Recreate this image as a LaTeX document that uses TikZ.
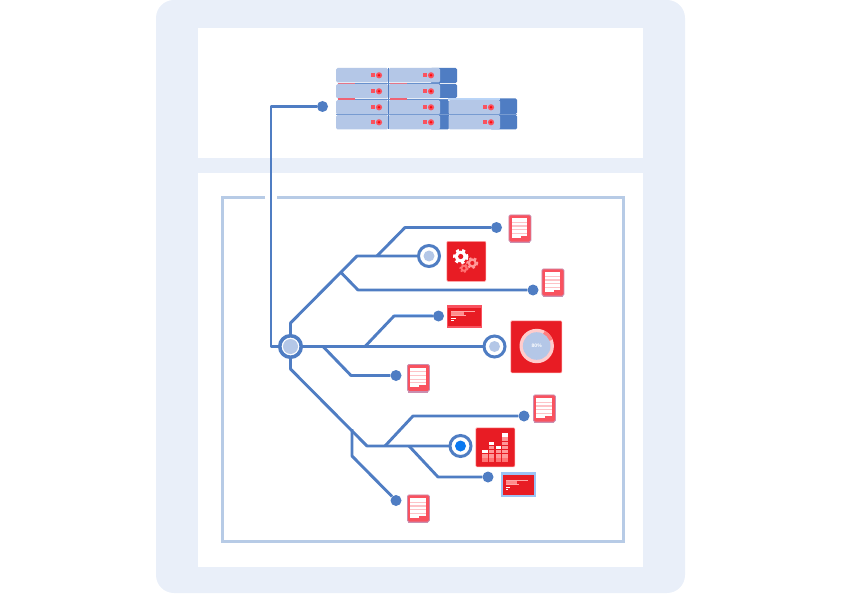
\documentclass[tikz,border=0pt]{standalone}
\usepackage{fontspec}
\setmainfont{Liberation Sans}
\definecolor{paleblue}{HTML}{E9EFF9}
\definecolor{framec}{HTML}{B7CBE6}
\definecolor{linec}{HTML}{4F7DC3}
\definecolor{srv}{HTML}{B4C7E7}
\definecolor{redc}{HTML}{E81C24}
\definecolor{pinkc}{HTML}{F9525F}
\definecolor{doclilac}{HTML}{C98FB0}
\definecolor{bright}{HTML}{0A78F0}
\definecolor{skyc}{HTML}{9CC3F5}
\tikzset{
  link/.style={draw=linec,line width=2.9pt,line join=round},
  enddot/.style={circle,fill=linec,inner sep=0pt,minimum size=11pt},
  ringn/.style={circle,draw=linec,fill=white,line width=3pt,inner sep=0pt,minimum size=21pt},
  hubn/.style={circle,draw=linec,fill=white,line width=3.6pt,inner sep=0pt,minimum size=21.5pt},
  srvbox/.style={fill=srv,rounded corners=1.5pt},
  srvdark/.style={fill=linec,rounded corners=1.5pt},
  redbox/.style={fill=redc,draw=red!35!white,line width=.6pt,rounded corners=1pt},
}
\newcommand{\srvunit}[3]{% x, y top, width
  \fill[srvbox] (#1,#2) rectangle ++(#3,14.5);
  \fill[pinkc] (#1+#3-17.5,#2+5.3) rectangle ++(4,4);
  \fill[pinkc] (#1+#3-9,#2+7.3) circle (3.1);
  \fill[red!90!pinkc] (#1+#3-9,#2+7.3) circle (1.4);
}
\newcommand{\docicon}[3]{% name, x, y
  \node[fill=pinkc,draw=doclilac,line width=.8pt,rounded corners=1.5pt,minimum width=22pt,minimum height=27pt,inner sep=0pt,anchor=north west] (#1) at (#2,#3) {};
  \fill[doclilac] (#2+1,#3+27) rectangle ++(20,1.6);
  \fill[white] (#2+3,#3+3.5) rectangle ++(15.5,19.5);
  \foreach \k in {1,...,4}{\fill[pinkc!35!white] (#2+3,#3+3.5+\k*3.7) rectangle ++(15.5,1.1);}
  \fill[pinkc] (#2+12,#3+21) rectangle ++(6.6,2.2);
}
\newcommand{\gearicon}[4]{% x, y, r, colour
  \fill[#4] (#1,#2) circle (#3);
  \draw[#4,line width=#3*.4pt,dash pattern=on #3*.55pt off #3*.55pt] (#1,#2) circle (#3*1.12);
  \fill[redc] (#1,#2) circle (#3*.45);
}
\newcommand{\winicon}[5]{% x, y, w, h, top-strip colour
  \fill[redc] (#1,#2) rectangle ++(#3,#4);
  \fill[#5] (#1,#2) rectangle ++(#3,2.2);
  \fill[white!65!red] (#1+3,#2+4.5) rectangle ++(#3*.72,1.3);
  \fill[white!55!red] (#1+3,#2+6.3) rectangle ++(#3*.38,2.6);
  \fill[white!65!red] (#1+3,#2+9.2) rectangle ++(#3*.44,1.1);
  \fill[white] (#1+3,#2+11.8) rectangle ++(4.5,1.1);
  \fill[white] (#1+3,#2+14.2) rectangle ++(2.8,1.1);
}
\begin{document}
\begin{tikzpicture}[x=1pt,y=-1pt]
\useasboundingbox (0,0) rectangle (842,596);
% panels
\fill[paleblue,rounded corners=18pt] (156,0) rectangle (685,593);
\fill[white] (198,28) rectangle (643,158);
\fill[white] (198,173) rectangle (643,567);
\draw[framec,line width=3pt] (265,197) -- (222,197) -- (222,541) -- (623,541) -- (623,197) -- (277,197);
% servers
\fill[srvdark] (430,68) rectangle (457,83);
\fill[srvdark] (430,84) rectangle (457,98);
\fill[srvdark] (430,100) rectangle (449,129.5);
\fill[srvdark] (490,98.5) rectangle (517,114);
\fill[srvdark] (490,115) rectangle (517,129.5);
\fill[skyc!70!white] (448,98) rectangle (500,100);
\foreach \y in {68,84,100,115}{
  \srvunit{336}{\y}{52}
  \srvunit{388.5}{\y}{51.5}
}
\foreach \y in {100,115}{\srvunit{448.5}{\y}{51.5}}
\draw[linec,line width=1pt] (388.3,68) -- (388.3,129.5);
\draw[linec!75!srv,line width=1pt] (355,83.6) -- (440,83.6);
\draw[linec!75!srv,line width=1.5pt] (355,99.3) -- (448,99.3);
\draw[linec!60!srv,line width=.8pt] (336,114.6) -- (517,114.6);
\fill[pinkc!70!srv] (338,83) rectangle (355,84.3);
\fill[pinkc!70!srv] (390,83) rectangle (407,84.3);
\fill[pinkc!85!srv] (338,98.5) rectangle (355,100);
\fill[pinkc!85!srv] (390,98.5) rectangle (407,100);
% nodes
\node[hubn] (hub) at (290.5,346.5) {};
\fill[srv] (hub.center) circle (7.5);
\node[enddot] (srvdot) at (322.5,106.5) {};
\node[enddot] (d1) at (496.5,227.5) {};
\node[enddot] (d2) at (533,290) {};
\node[enddot] (d3) at (438.5,316) {};
\node[enddot] (d4) at (396,375.5) {};
\node[enddot] (d5) at (524,416) {};
\node[enddot] (d6) at (488,477) {};
\node[enddot] (d7) at (396,500.5) {};
\coordinate (a0) at (271,106.5);
\coordinate (a1) at (271,346.5);
\coordinate (b0) at (290.5,323);
\coordinate (b1) at (357,256);
\coordinate (b2) at (377,256);
\coordinate (b3) at (405,227.5);
\coordinate (b4) at (341,272.5);
\coordinate (b5) at (358,290);
\coordinate (c1) at (365,346.5);
\coordinate (c2) at (394,316);
\coordinate (c3) at (323,346.5);
\coordinate (c4) at (351,375.5);
\coordinate (e0) at (290.5,369);
\coordinate (e1) at (367,446);
\coordinate (e2) at (385,446);
\coordinate (e3) at (413,416);
\coordinate (e4) at (409,446);
\coordinate (e5) at (438,477);
\coordinate (e6) at (352,429);
\coordinate (e7) at (352,456);
% connectors
\draw[link] (srvdot) -- (a0) -- (a1) -- (hub);
\draw[link] (hub) -- (b0) -- (b1) -- (417,256);
\draw[link] (b2) -- (b3) -- (d1);
\draw[link] (b4) -- (b5) -- (d2);
\draw[link] (hub) -- (483,346.5);
\draw[link] (c1) -- (c2) -- (d3);
\draw[skyc,line width=1.2pt] (394,314.5) -- (432,314.5);
\draw[link] (c3) -- (c4) -- (d4);
\draw[link] (hub) -- (e0) -- (e1) -- (449,446);
\draw[link] (e2) -- (e3) -- (d5);
\draw[link] (e4) -- (e5) -- (d6);
\draw[link] (e6) -- (e7) -- (d7);
% rings
\node[ringn] (r1) at (429,256) {};
\fill[srv] (r1.center) circle (5.5);
\node[ringn] (r2) at (494.5,346.5) {};
\fill[srv] (r2.center) circle (5.5);
\node[ringn] (r3) at (460.5,446) {};
\fill[bright] (r3.center) circle (5.5);
% document icons
\docicon{doc1}{508.5}{214.5}
\docicon{doc2}{541.5}{268.5}
\docicon{doc3}{407}{364}
\docicon{doc4}{533}{394.5}
\docicon{doc5}{407}{494.5}
% gears
\node[redbox,minimum width=39pt,minimum height=40pt,inner sep=0pt,anchor=north west] (gearbox) at (446.5,241) {};
\gearicon{460.7}{256.5}{5.8}{white}
\gearicon{472.3}{263}{4.6}{white!60!red}
\gearicon{464}{268.3}{3.5}{white!45!red}
% donut
\node[redbox,minimum width=51pt,minimum height=52pt,inner sep=0pt,anchor=north west] (donutbox) at (510.5,320.5) {};
\fill[white!80!red] (536.7,346) circle (17.2);
\fill[white!50!red] (536.7,346) -- ++(-62:17.2) arc[start angle=-62,end angle=-22,radius=17.2] -- cycle;
\fill[srv] (536.7,346) circle (13.8);
\node[text=white,font=\bfseries\fontsize{5}{5}\selectfont,inner sep=0pt] (pct) at (536.7,345.5) {80\%};
% chart
\node[redbox,minimum width=39pt,minimum height=39pt,inner sep=0pt,anchor=north west] (chartbox) at (475.5,427.5) {};
\foreach \cx/\n in {482/3,488.8/5,495.6/4,502/7}{
  \foreach \k in {1,...,\n}{
    \pgfmathsetmacro{\yy}{462.5-\k*4.2}
    \pgfmathsetmacro{\shade}{\k==\n ? 100 : (\k>1 ? 60 : 45)}
    \fill[white!\shade!red] (\cx,\yy) rectangle ++(5.5,3.4);
  }
}
% window icons
\node[fill=pinkc,minimum width=35pt,minimum height=22.5pt,inner sep=0pt,anchor=north west] (win1) at (447,305) {};
\winicon{448}{306}{33}{20}{pinkc}
\node[fill=skyc,minimum width=34.5pt,minimum height=24.5pt,inner sep=0pt,anchor=north west] (win2) at (501,472) {};
\winicon{502.5}{475}{31.5}{19.5}{redc}
\end{tikzpicture}
\end{document}
